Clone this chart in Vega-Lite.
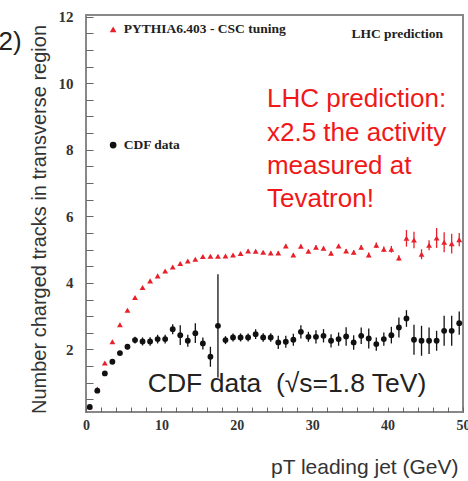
{
  "$schema": "https://vega.github.io/schema/vega-lite/v6.json",
  "width": 377,
  "height": 397,
  "autosize": {"type": "none"},
  "padding": {"left": 86, "top": 15, "right": 5, "bottom": 69},
  "background": "white",
  "config": {
    "view": {"stroke": "#888", "strokeWidth": 2},
    "axis": {"grid": false}
  },
  "datasets": {
    "pts": [
      {"s": "PYTHIA", "x": 0.5, "y": 0.28, "err": 0.03},
      {"s": "PYTHIA", "x": 1.5, "y": 0.81, "err": 0.03},
      {"s": "PYTHIA", "x": 2.5, "y": 1.59, "err": 0.03},
      {"s": "PYTHIA", "x": 3.5, "y": 2.23, "err": 0.03},
      {"s": "PYTHIA", "x": 4.5, "y": 2.74, "err": 0.03},
      {"s": "PYTHIA", "x": 5.5, "y": 3.18, "err": 0.03},
      {"s": "PYTHIA", "x": 6.5, "y": 3.56, "err": 0.03},
      {"s": "PYTHIA", "x": 7.5, "y": 3.86, "err": 0.03},
      {"s": "PYTHIA", "x": 8.5, "y": 4.06, "err": 0.03},
      {"s": "PYTHIA", "x": 9.5, "y": 4.21, "err": 0.03},
      {"s": "PYTHIA", "x": 10.5, "y": 4.36, "err": 0.03},
      {"s": "PYTHIA", "x": 11.5, "y": 4.48, "err": 0.03},
      {"s": "PYTHIA", "x": 12.5, "y": 4.58, "err": 0.03},
      {"s": "PYTHIA", "x": 13.5, "y": 4.66, "err": 0.03},
      {"s": "PYTHIA", "x": 14.5, "y": 4.71, "err": 0.03},
      {"s": "PYTHIA", "x": 15.5, "y": 4.79, "err": 0.03},
      {"s": "PYTHIA", "x": 16.5, "y": 4.8, "err": 0.03},
      {"s": "PYTHIA", "x": 17.5, "y": 4.8, "err": 0.03},
      {"s": "PYTHIA", "x": 18.5, "y": 4.81, "err": 0.03},
      {"s": "PYTHIA", "x": 19.5, "y": 4.84, "err": 0.03},
      {"s": "PYTHIA", "x": 20.5, "y": 4.88, "err": 0.04},
      {"s": "PYTHIA", "x": 21.5, "y": 4.96, "err": 0.04},
      {"s": "PYTHIA", "x": 22.5, "y": 4.95, "err": 0.04},
      {"s": "PYTHIA", "x": 23.5, "y": 4.92, "err": 0.04},
      {"s": "PYTHIA", "x": 24.5, "y": 4.9, "err": 0.04},
      {"s": "PYTHIA", "x": 25.5, "y": 4.9, "err": 0.05},
      {"s": "PYTHIA", "x": 26.5, "y": 5.11, "err": 0.05},
      {"s": "PYTHIA", "x": 27.5, "y": 4.84, "err": 0.05},
      {"s": "PYTHIA", "x": 28.5, "y": 5.1, "err": 0.05},
      {"s": "PYTHIA", "x": 29.5, "y": 4.95, "err": 0.05},
      {"s": "PYTHIA", "x": 30.5, "y": 5.07, "err": 0.06},
      {"s": "PYTHIA", "x": 31.5, "y": 5.04, "err": 0.06},
      {"s": "PYTHIA", "x": 32.5, "y": 4.89, "err": 0.06},
      {"s": "PYTHIA", "x": 33.5, "y": 5.11, "err": 0.06},
      {"s": "PYTHIA", "x": 34.5, "y": 4.96, "err": 0.06},
      {"s": "PYTHIA", "x": 35.5, "y": 4.92, "err": 0.07},
      {"s": "PYTHIA", "x": 36.5, "y": 5.07, "err": 0.07},
      {"s": "PYTHIA", "x": 37.5, "y": 4.84, "err": 0.07},
      {"s": "PYTHIA", "x": 38.5, "y": 5.13, "err": 0.08},
      {"s": "PYTHIA", "x": 39.5, "y": 5.01, "err": 0.08},
      {"s": "PYTHIA", "x": 40.5, "y": 5.01, "err": 0.1},
      {"s": "PYTHIA", "x": 41.5, "y": 4.75, "err": 0.08},
      {"s": "PYTHIA", "x": 42.5, "y": 5.34, "err": 0.25},
      {"s": "PYTHIA", "x": 43.5, "y": 5.29, "err": 0.25},
      {"s": "PYTHIA", "x": 44.5, "y": 4.86, "err": 0.15},
      {"s": "PYTHIA", "x": 45.5, "y": 5.13, "err": 0.15},
      {"s": "PYTHIA", "x": 46.5, "y": 5.35, "err": 0.3},
      {"s": "PYTHIA", "x": 47.5, "y": 5.22, "err": 0.3},
      {"s": "PYTHIA", "x": 48.5, "y": 5.18, "err": 0.3},
      {"s": "PYTHIA", "x": 49.5, "y": 5.3, "err": 0.2},
      {"s": "CDF", "x": 0.5, "y": 0.27, "err": 0.03},
      {"s": "CDF", "x": 1.5, "y": 0.76, "err": 0.03},
      {"s": "CDF", "x": 2.5, "y": 1.28, "err": 0.04},
      {"s": "CDF", "x": 3.5, "y": 1.63, "err": 0.05},
      {"s": "CDF", "x": 4.5, "y": 1.89, "err": 0.06},
      {"s": "CDF", "x": 5.5, "y": 2.08, "err": 0.08},
      {"s": "CDF", "x": 6.5, "y": 2.28, "err": 0.1},
      {"s": "CDF", "x": 7.5, "y": 2.24, "err": 0.12},
      {"s": "CDF", "x": 8.5, "y": 2.24, "err": 0.13},
      {"s": "CDF", "x": 9.5, "y": 2.31, "err": 0.13},
      {"s": "CDF", "x": 10.5, "y": 2.31, "err": 0.13},
      {"s": "CDF", "x": 11.5, "y": 2.61, "err": 0.15},
      {"s": "CDF", "x": 12.5, "y": 2.43, "err": 0.3},
      {"s": "CDF", "x": 13.5, "y": 2.26, "err": 0.18},
      {"s": "CDF", "x": 14.5, "y": 2.49, "err": 0.3},
      {"s": "CDF", "x": 15.5, "y": 2.18, "err": 0.18},
      {"s": "CDF", "x": 16.5, "y": 1.78, "err": 0.3},
      {"s": "CDF", "x": 17.5, "y": 2.71, "err": 1.55},
      {"s": "CDF", "x": 18.5, "y": 2.28, "err": 0.12},
      {"s": "CDF", "x": 19.5, "y": 2.36, "err": 0.12},
      {"s": "CDF", "x": 20.5, "y": 2.36, "err": 0.12},
      {"s": "CDF", "x": 21.5, "y": 2.36, "err": 0.12},
      {"s": "CDF", "x": 22.5, "y": 2.46, "err": 0.15},
      {"s": "CDF", "x": 23.5, "y": 2.36, "err": 0.13},
      {"s": "CDF", "x": 24.5, "y": 2.36, "err": 0.13},
      {"s": "CDF", "x": 25.5, "y": 2.21, "err": 0.2},
      {"s": "CDF", "x": 26.5, "y": 2.23, "err": 0.18},
      {"s": "CDF", "x": 27.5, "y": 2.29, "err": 0.18},
      {"s": "CDF", "x": 28.5, "y": 2.53, "err": 0.2},
      {"s": "CDF", "x": 29.5, "y": 2.38, "err": 0.15},
      {"s": "CDF", "x": 30.5, "y": 2.38, "err": 0.2},
      {"s": "CDF", "x": 31.5, "y": 2.41, "err": 0.2},
      {"s": "CDF", "x": 32.5, "y": 2.26, "err": 0.2},
      {"s": "CDF", "x": 33.5, "y": 2.31, "err": 0.2},
      {"s": "CDF", "x": 34.5, "y": 2.39, "err": 0.28},
      {"s": "CDF", "x": 35.5, "y": 2.21, "err": 0.22},
      {"s": "CDF", "x": 36.5, "y": 2.41, "err": 0.25},
      {"s": "CDF", "x": 37.5, "y": 2.33, "err": 0.3},
      {"s": "CDF", "x": 38.5, "y": 2.16, "err": 0.2},
      {"s": "CDF", "x": 39.5, "y": 2.31, "err": 0.2},
      {"s": "CDF", "x": 40.5, "y": 2.43, "err": 0.25},
      {"s": "CDF", "x": 41.5, "y": 2.66, "err": 0.3},
      {"s": "CDF", "x": 42.5, "y": 2.93, "err": 0.25},
      {"s": "CDF", "x": 43.5, "y": 2.29, "err": 0.45},
      {"s": "CDF", "x": 44.5, "y": 2.26, "err": 0.45},
      {"s": "CDF", "x": 45.5, "y": 2.26, "err": 0.4},
      {"s": "CDF", "x": 46.5, "y": 2.26, "err": 0.3},
      {"s": "CDF", "x": 47.5, "y": 2.56, "err": 0.45},
      {"s": "CDF", "x": 48.5, "y": 2.56, "err": 0.45},
      {"s": "CDF", "x": 49.5, "y": 2.79, "err": 0.35}
    ],
    "legendMarks": [
      {"s": "PYTHIA", "x": 3.6, "y": 11.62},
      {"s": "CDF", "x": 3.6, "y": 8.14}
    ],
    "legendText": [
      {"x": 5.0, "y": 11.62, "t": "PYTHIA6.403 - CSC tuning"},
      {"x": 5.0, "y": 8.14, "t": "CDF data"},
      {"x": 35.2, "y": 11.47, "t": "LHC prediction"}
    ],
    "redText": [
      {"x": 24.0, "y": 9.52, "t": "LHC prediction:"},
      {"x": 24.0, "y": 8.5, "t": "x2.5 the activity"},
      {"x": 24.0, "y": 7.5, "t": "measured at"},
      {"x": 24.0, "y": 6.52, "t": "Tevatron!"}
    ],
    "bigText": [
      {"x": 8.2, "y": 0.95, "t": "CDF data\u00a0\u00a0(√s=1.8 TeV)"}
    ],
    "cornerText": [
      {"x": -11.6, "y": 11.23, "t": "2)"}
    ]
  },
  "encoding": {
    "x": {
      "field": "x", "type": "quantitative",
      "scale": {"domain": [0, 50], "nice": false, "zero": false},
      "axis": {
        "values": [0,2,4,6,8,10,12,14,16,18,20,22,24,26,28,30,32,34,36,38,40,42,44,46,48,50],
        "labelExpr": "datum.value % 10 === 0 ? format(datum.value, 'd') : ''",
        "labelFont": "Liberation Serif", "labelFontWeight": "bold", "labelFontSize": 14, "labelColor": "#333",
        "offset": -5, "tickSize": 5, "domain": false,
        "tickColor": "#666", "tickWidth": 1,
        "labelPadding": 6, "labelFlush": false,
        "title": "pT leading jet (GeV)",
        "titleFont": "Liberation Sans", "titleFontWeight": "normal", "titleFontSize": 21, "titleColor": "#333",
        "titleAnchor": "end", "titleX": 372, "titleAlign": "right", "titlePadding": 24
      }
    },
    "y": {
      "field": "y", "type": "quantitative",
      "scale": {"domain": [0.12, 12.05], "nice": false, "zero": false},
      "axis": {
        "values": [0.5,1,1.5,2,2.5,3,3.5,4,4.5,5,5.5,6,6.5,7,7.5,8,8.5,9,9.5,10,10.5,11,11.5,12],
        "labelExpr": "datum.value % 2 === 0 ? format(datum.value, 'd') : ''",
        "labelFont": "Liberation Serif", "labelFontWeight": "bold", "labelFontSize": 15, "labelColor": "#333",
        "offset": -7, "tickSize": 7, "domain": false,
        "tickColor": "#666", "tickWidth": 1,
        "labelPadding": 13, "labelFlush": false,
        "title": "Number charged tracks in transverse region",
        "titleFont": "Liberation Sans", "titleFontWeight": "normal", "titleFontSize": 20, "titleColor": "#333",
        "titlePadding": 9, "titleY": 204
      }
    }
  },
  "layer": [
    {
      "data": {"name": "pts"},
      "mark": {"type": "errorbar", "thickness": 1.3},
      "encoding": {
        "yError": {"field": "err"},
        "color": {"field": "s", "type": "nominal", "scale": {"domain": ["PYTHIA", "CDF"], "range": ["#e8202a", "#111"]}, "legend": null}
      }
    },
    {
      "data": {"name": "pts"},
      "mark": {"type": "point", "filled": true, "opacity": 1},
      "encoding": {
        "color": {"field": "s", "type": "nominal", "scale": {"domain": ["PYTHIA", "CDF"], "range": ["#e8202a", "#111"]}, "legend": null},
        "shape": {"field": "s", "type": "nominal", "scale": {"domain": ["PYTHIA", "CDF"], "range": ["triangle-up", "circle"]}, "legend": null},
        "size": {"value": 34}
      }
    },
    {
      "data": {"name": "legendMarks"},
      "mark": {"type": "point", "filled": true, "opacity": 1, "size": 45},
      "encoding": {
        "color": {"field": "s", "type": "nominal", "scale": {"domain": ["PYTHIA", "CDF"], "range": ["#e8202a", "#111"]}, "legend": null},
        "shape": {"field": "s", "type": "nominal", "scale": {"domain": ["PYTHIA", "CDF"], "range": ["triangle-up", "circle"]}, "legend": null}
      }
    },
    {
      "data": {"name": "legendText"},
      "mark": {"type": "text", "align": "left", "baseline": "middle", "font": "Liberation Serif", "fontWeight": "bold", "fontSize": 13.5, "color": "#222"},
      "encoding": {"text": {"field": "t"}}
    },
    {
      "data": {"name": "redText"},
      "mark": {"type": "text", "align": "left", "baseline": "middle", "font": "Liberation Sans", "fontSize": 26, "color": "#f01818"},
      "encoding": {"text": {"field": "t"}}
    },
    {
      "data": {"name": "bigText"},
      "mark": {"type": "text", "align": "left", "baseline": "middle", "font": "Liberation Sans", "fontSize": 26.5, "color": "#222"},
      "encoding": {"text": {"field": "t"}}
    },
    {
      "data": {"name": "cornerText"},
      "mark": {"type": "text", "align": "left", "baseline": "middle", "font": "Liberation Sans", "fontSize": 26, "color": "#222", "clip": false},
      "encoding": {"text": {"field": "t"}}
    }
  ]
}
